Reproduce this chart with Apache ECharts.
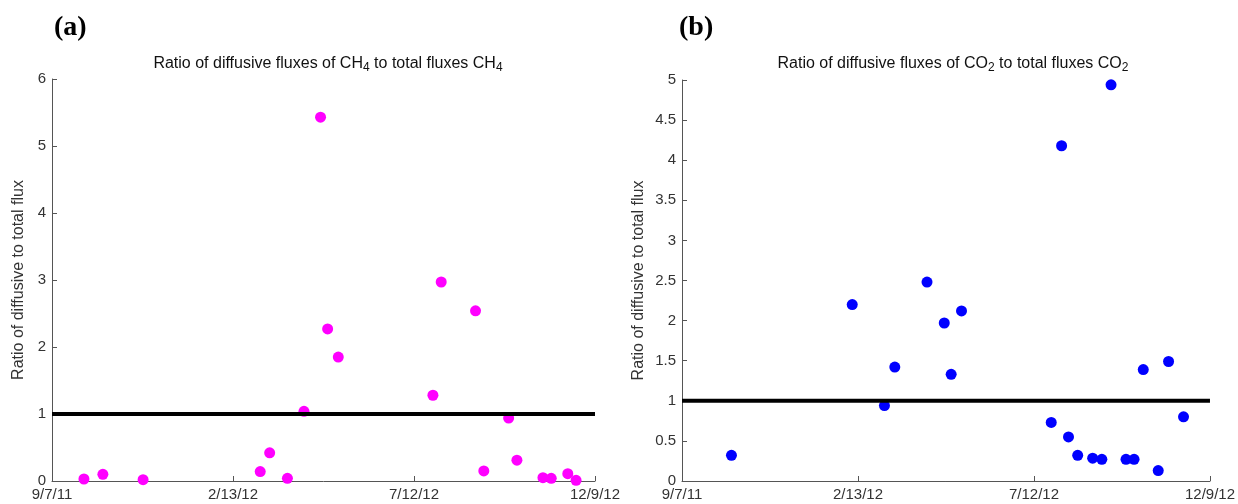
<!DOCTYPE html>
<html>
<head>
<meta charset="utf-8">
<script src="https://cdn.jsdelivr.net/npm/echarts@6/dist/echarts.min.js"></script>
<style>
  html, body { margin: 0; padding: 0; background: #fff; }
  #chart { width: 1238px; height: 504px; }
</style>
</head>
<body>
<div id="chart"></div>
<script>
// x values are days counted from 9/7/11
const xTickLabels = ['9/7/11', '2/13/12', '7/12/12', '12/9/12'];
const xTickStep = 153;

// panel (a) CH4
const ch4Days = [27, 43, 77, 176, 184, 199, 213, 227, 233, 242, 322, 329, 358, 365, 386, 393, 415, 422, 436, 443];
const ch4Ratio = [0.03, 0.1, 0.02, 0.14, 0.42, 0.04, 1.04, 5.43, 2.27, 1.85, 1.28, 2.97, 2.54, 0.15, 0.94, 0.31, 0.05, 0.04, 0.11, 0.01];

// panel (b) CO2
const co2Days = [43, 148, 176, 185, 213, 228, 234, 243, 321, 330, 336, 344, 357, 365, 373, 386, 393, 401, 414, 423, 436];
const co2Ratio = [0.32, 2.2, 0.94, 1.42, 2.48, 1.97, 1.33, 2.12, 0.73, 4.18, 0.55, 0.32, 0.285, 0.27, 4.94, 0.27, 0.27, 1.39, 0.13, 1.49, 0.8];

// reference level (ratio = 1)
const refLevel = 1;

const chart = echarts.init(document.getElementById('chart'));

const xMax = xTickStep * (xTickLabels.length - 1);
const pairs = (xs, ys) => xs.map((x, i) => [x, ys[i]]);

const font = 'Liberation Sans, Arial, sans-serif';
const axisText = { color: '#333', fontSize: 15, fontFamily: font };
const axisLine = { show: true, lineStyle: { color: '#555', width: 1 } };
const axisTick = { show: true, inside: true, length: 5, lineStyle: { color: '#555' } };

const makeX = (gridIndex) => ({
  type: 'value',
  gridIndex: gridIndex,
  min: 0,
  max: xMax,
  interval: xTickStep,
  axisLine: axisLine,
  axisTick: axisTick,
  splitLine: { show: false },
  axisLabel: Object.assign({
    margin: 6,
    formatter: v => xTickLabels[Math.round(v / xTickStep)] || ''
  }, axisText)
});

const makeY = (gridIndex, max, interval, gap) => ({
  type: 'value',
  gridIndex: gridIndex,
  min: 0,
  max: max,
  interval: interval,
  name: 'Ratio of diffusive to total flux',
  nameLocation: 'middle',
  nameGap: gap,
  nameTextStyle: { color: '#333', fontSize: 16, fontFamily: font },
  axisLine: axisLine,
  axisTick: axisTick,
  splitLine: { show: false },
  axisLabel: Object.assign({ margin: 6 }, axisText)
});

const titleRich = {
  n: { fontSize: 16, fontWeight: 'normal', lineHeight: 18, verticalAlign: 'top', color: '#111', fontFamily: font },
  s: { fontSize: 12, fontWeight: 'normal', lineHeight: 18, verticalAlign: 'top', padding: [6, 0, 0, 0], color: '#111', fontFamily: font }
};

const panelLabel = {
  fontFamily: 'Liberation Serif, Times New Roman, serif',
  fontWeight: 'bold',
  fontSize: 28,
  color: '#000'
};

const option = {
  animation: false,
  backgroundColor: '#fff',
  title: [
    { text: '(a)', left: 49, top: 9, textStyle: panelLabel },
    { text: '(b)', left: 674, top: 9, textStyle: panelLabel },
    {
      text: '{n|Ratio of diffusive fluxes of CH}{s|4}{n| to total fluxes CH}{s|4}',
      left: 323, top: 51, textAlign: 'center',
      textStyle: { fontWeight: 'normal', rich: titleRich }
    },
    {
      text: '{n|Ratio of diffusive fluxes of CO}{s|2}{n| to total fluxes CO}{s|2}',
      left: 948, top: 51, textAlign: 'center',
      textStyle: { fontWeight: 'normal', rich: titleRich }
    }
  ],
  grid: [
    { left: 52, top: 79, width: 543, height: 402 },
    { left: 682, top: 80, width: 533, height: 401 }
  ],
  xAxis: [makeX(0), makeX(1)],
  yAxis: [makeY(0, 6, 1, 25), makeY(1, 5, 0.5, 35)],
  series: [
    {
      type: 'scatter',
      xAxisIndex: 0, yAxisIndex: 0,
      symbolSize: 11,
      itemStyle: { color: '#ff00ff', opacity: 1 },
      data: pairs(ch4Days, ch4Ratio),
      z: 2
    },
    {
      type: 'line',
      xAxisIndex: 0, yAxisIndex: 0,
      symbol: 'none',
      lineStyle: { color: '#000', width: 4 },
      data: [[0, refLevel], [xMax, refLevel]],
      z: 5,
      silent: true
    },
    {
      type: 'scatter',
      xAxisIndex: 1, yAxisIndex: 1,
      symbolSize: 11,
      itemStyle: { color: '#0000ff', opacity: 1 },
      data: pairs(co2Days, co2Ratio),
      z: 2
    },
    {
      type: 'line',
      xAxisIndex: 1, yAxisIndex: 1,
      symbol: 'none',
      lineStyle: { color: '#000', width: 4 },
      data: [[0, refLevel], [xMax, refLevel]],
      z: 5,
      silent: true
    }
  ]
};

chart.setOption(option);
</script>
</body>
</html>
